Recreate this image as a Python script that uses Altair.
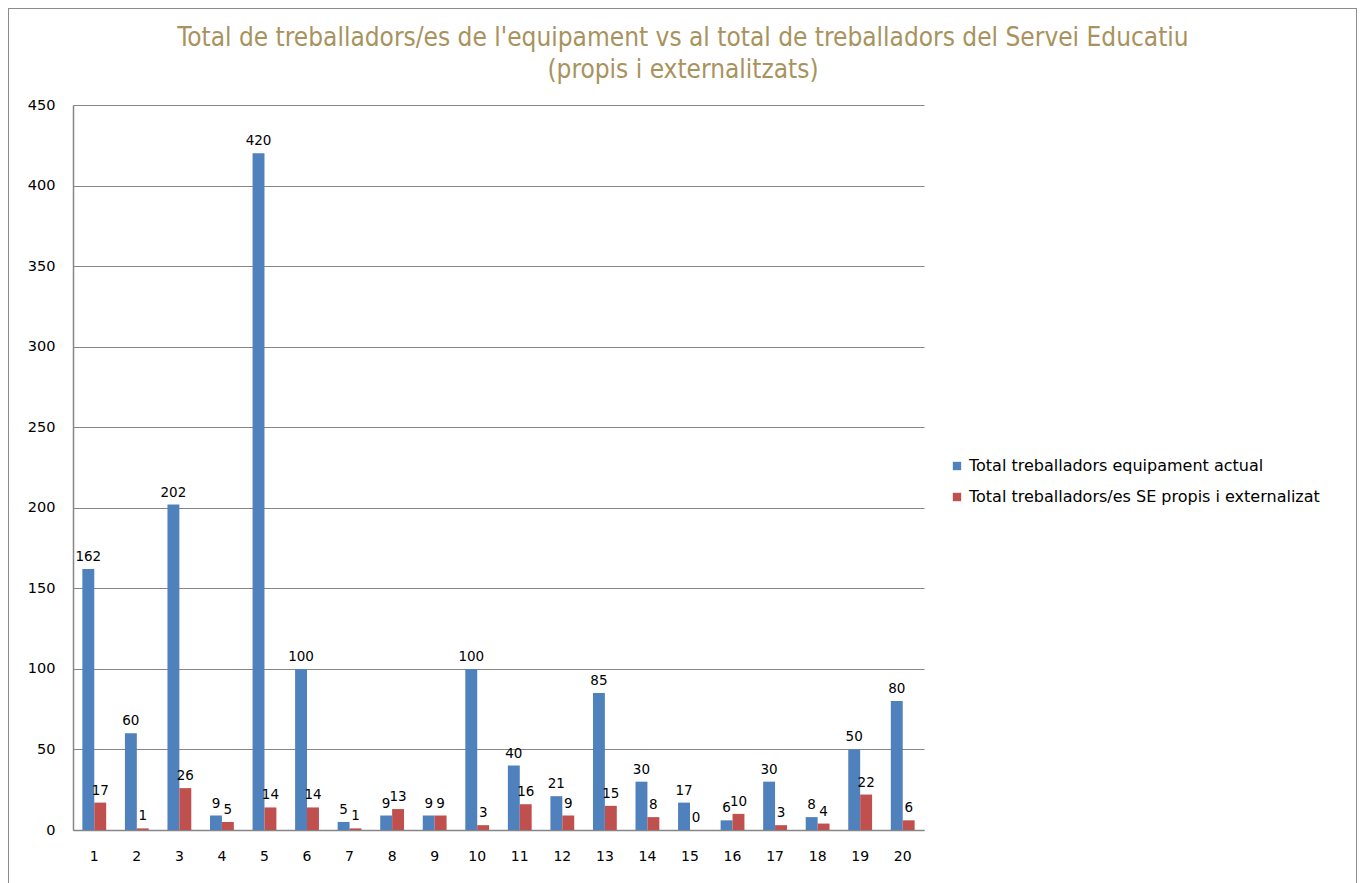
import altair as alt
import pandas as pd

categories = [str(i) for i in range(1, 21)]
series_names = ["Total treballadors equipament actual",
                "Total treballadors/es SE propis i externalizat"]
equipament = [162, 60, 202, 9, 420, 100, 5, 9, 9, 100, 40, 21, 85, 30, 17, 6, 30, 8, 50, 80]
servei = [17, 1, 26, 5, 14, 14, 1, 13, 9, 3, 16, 9, 15, 8, 0, 10, 3, 4, 22, 6]
colors = ["#4F81BD", "#C0504D"]
title_lines = ["Total de treballadors/es de l'equipament vs al total de treballadors del Servei Educatiu",
               "(propis i externalitzats)"]

rows = []
for c, a, b in zip(categories, equipament, servei):
    rows.append({"cat": c, "serie": series_names[0], "val": a})
    rows.append({"cat": c, "serie": series_names[1], "val": b})
df = pd.DataFrame(rows)

FONT = "DejaVu Sans"

x = alt.X("cat:N", sort=categories, title=None,
          scale=alt.Scale(paddingInner=0.44, paddingOuter=0.22),
          axis=alt.Axis(labelAngle=0, labelFontSize=14, labelFont=FONT, labelColor="#000000",
                        labelPadding=19, ticks=False, domainColor="#868686", domainWidth=1.5))
xo = alt.XOffset("serie:N", sort=series_names)
y = alt.Y("val:Q", title=None,
          scale=alt.Scale(domain=[0, 450], nice=False),
          axis=alt.Axis(values=list(range(0, 451, 50)), labelFontSize=14.5, labelFont=FONT,
                        labelColor="#000000", labelPadding=18, ticks=False,
                        domainColor="#868686", domainWidth=1.5,
                        grid=True, gridColor="#868686", gridWidth=1))

base = alt.Chart(df)

bars = base.mark_bar().encode(
    x=x, xOffset=xo, y=y,
    color=alt.Color("serie:N", sort=series_names,
                    scale=alt.Scale(domain=series_names, range=colors),
                    legend=alt.Legend(title=None, orient="none", legendX=876, legendY=353,
                                      symbolType="square", symbolSize=70, symbolStrokeWidth=0,
                                      labelFont=FONT, labelFontSize=16, labelColor="#000000",
                                      labelLimit=500, rowPadding=15, labelOffset=4)),
)

labels = base.mark_text(baseline="bottom", dy=-5, fontSize=13.5, font=FONT, color="#000000").encode(
    x=alt.X("cat:N", sort=categories), xOffset=xo, y="val:Q", text="val:Q"
)

frame = alt.Chart(pd.DataFrame({"a": [0]})).mark_rect(
    filled=False, stroke="#8C8C8C", strokeWidth=2
).encode(x=alt.value(-65), x2=alt.value(1284), y=alt.value(-97), y2=alt.value(900))

title1 = alt.Chart(pd.DataFrame({"t": [title_lines[0]]})).mark_text(
    font="DejaVu Sans Condensed", fontSize=26, color="#A8935E", baseline="middle", align="center"
).encode(x=alt.value(610), y=alt.value(-67), text="t:N")
title2 = alt.Chart(pd.DataFrame({"t": [title_lines[1]]})).mark_text(
    font="DejaVu Sans Condensed", fontSize=26, color="#A8935E", baseline="middle", align="center"
).encode(x=alt.value(610), y=alt.value(-35), text="t:N")

chart = alt.layer(frame, bars, labels, title1, title2).properties(
    width=851, height=725,
    autosize=alt.AutoSizeParams(type="none"),
    padding={"left": 65, "top": 97, "right": 433, "bottom": 80},
).configure_view(stroke=None)

chart.save("out.html", embed_options={"renderer": "svg", "actions": False})
